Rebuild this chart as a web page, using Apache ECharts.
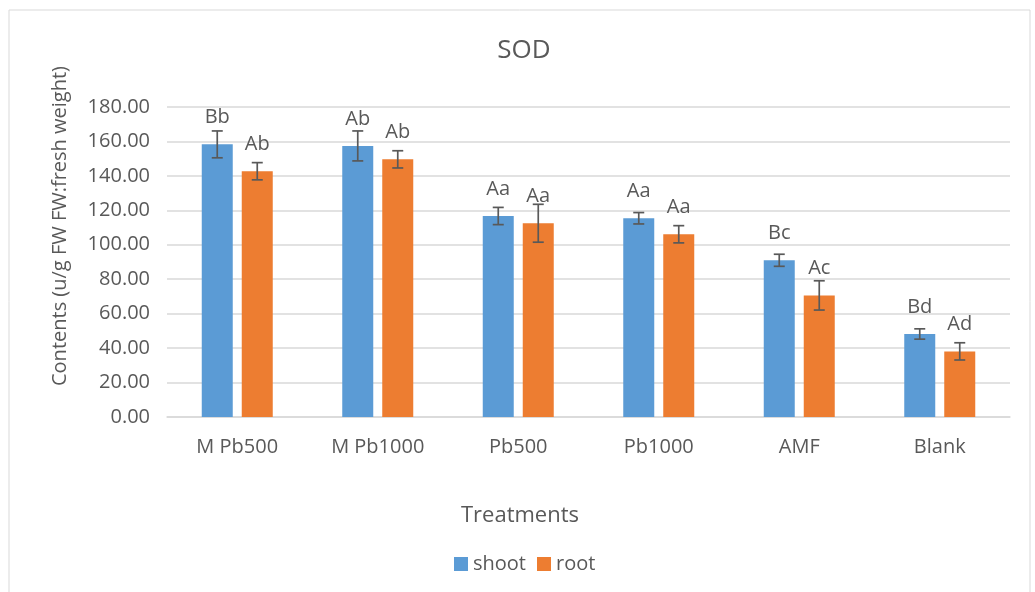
<!DOCTYPE html>
<html>
<head>
<meta charset="utf-8">
<script src="https://cdn.jsdelivr.net/npm/echarts@6/dist/echarts.min.js"></script>
<style>html,body{margin:0;padding:0;background:#fff;}#c{width:1035px;height:592px;}</style>
</head>
<body>
<div id="c"></div>
<script>
const categories = ['M Pb500', 'M Pb1000', 'Pb500', 'Pb1000', 'AMF', 'Blank'];
const shoot = [158.3, 157.4, 116.7, 115.4, 91.0, 48.2];
const shootErr = [7.8, 8.7, 5.0, 3.3, 3.5, 3.0];
const root = [142.7, 149.6, 112.5, 106.1, 70.6, 38.1];
const rootErr = [5.0, 5.0, 11.0, 5.0, 8.5, 5.0];
const shootLetters = ['Bb', 'Ab', 'Aa', 'Aa', 'Bc', 'Bd'];
const rootLetters = ['Ab', 'Ab', 'Aa', 'Aa', 'Ac', 'Ad'];
const yTicks = [0, 20, 40, 60, 80, 100, 120, 140, 160, 180];

const FONT = '"Open Sans", "Noto Sans", sans-serif';
const TXT = '#595959';
const BAR_W = 31, GAP = 9;
const OFF = (BAR_W + GAP) / 2;

function errSeries(name, vals, errs, dir) {
  return {
    type: 'custom',
    name: name + '_err',
    z: 5,
    silent: true,
    data: vals.map((v, i) => [i, v - errs[i], v + errs[i]]),
    renderItem: function (params, api) {
      const lo = api.coord([api.value(0), api.value(1)]);
      const hi = api.coord([api.value(0), api.value(2)]);
      const x = lo[0] + dir * OFF;
      const cap = 5.5;
      const st = { stroke: '#595959', lineWidth: 1.7 };
      return {
        type: 'group',
        children: [
          { type: 'line', shape: { x1: x, y1: lo[1], x2: x, y2: hi[1] }, style: st },
          { type: 'line', shape: { x1: x - cap, y1: lo[1], x2: x + cap, y2: lo[1] }, style: st },
          { type: 'line', shape: { x1: x - cap, y1: hi[1], x2: x + cap, y2: hi[1] }, style: st }
        ]
      };
    }
  };
}

const chart = echarts.init(document.getElementById('c'));
chart.setOption({
  backgroundColor: '#fff',
  animation: false,
  graphic: [
    { type: 'rect', shape: { x: 9, y: 10, width: 1021, height: 600 },
      style: { fill: 'none', stroke: '#D9D9D9', lineWidth: 1 }, silent: true, z: -1 },
    { type: 'text', x: 524, y: 51,
      style: { text: 'SOD', font: '26px ' + FONT, fill: TXT, textAlign: 'center', textVerticalAlign: 'middle' } },
    { type: 'text', x: 60, y: 226, rotation: Math.PI / 2,
      style: { text: 'Contents (u/g FW FW:fresh weight)', font: '20px ' + FONT, fill: TXT, textAlign: 'center', textVerticalAlign: 'middle' } },
    { type: 'text', x: 520, y: 516,
      style: { text: 'Treatments', font: '22px ' + FONT, fill: TXT, textAlign: 'center', textVerticalAlign: 'middle' } }
  ],
  legend: {
    data: ['shoot', 'root'], left: 449, top: 549,
    itemWidth: 14, itemHeight: 14, itemGap: 11, icon: 'rect',
    textStyle: { fontFamily: FONT, fontSize: 20, color: TXT }
  },
  grid: { left: 167, right: 25, top: 107, bottom: 175 },
  xAxis: {
    type: 'category', data: categories,
    axisLine: { lineStyle: { color: '#D9D9D9', width: 1.5 } },
    axisTick: { show: false },
    axisLabel: { fontFamily: FONT, fontSize: 20, color: TXT, margin: 20 }
  },
  yAxis: {
    type: 'value', min: yTicks[0], max: yTicks[yTicks.length - 1], interval: 20,
    axisLine: { show: false }, axisTick: { show: false },
    splitLine: { lineStyle: { color: '#D9D9D9', width: 1.5 } },
    axisLabel: { fontFamily: FONT, fontSize: 20, color: TXT, margin: 17,
      formatter: v => v.toFixed(2) }
  },
  series: [
    {
      name: 'shoot', type: 'bar', data: shoot, barWidth: BAR_W, barGap: (GAP / BAR_W * 100) + '%',
      itemStyle: { color: '#5B9BD5' },
      label: { show: true, position: 'top', distance: 17, fontFamily: FONT, fontSize: 20, color: TXT,
        formatter: p => shootLetters[p.dataIndex] }
    },
    {
      name: 'root', type: 'bar', data: root, barWidth: BAR_W,
      itemStyle: { color: '#ED7D31' },
      label: { show: true, position: 'top', distance: 17, fontFamily: FONT, fontSize: 20, color: TXT,
        formatter: p => rootLetters[p.dataIndex] }
    },
    errSeries('shoot', shoot, shootErr, -1),
    errSeries('root', root, rootErr, 1)
  ]
});
</script>
</body>
</html>
